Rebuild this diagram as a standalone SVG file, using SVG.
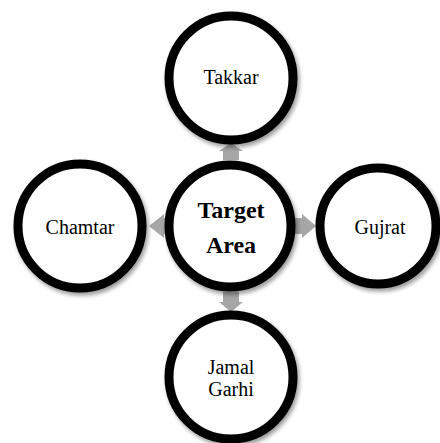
<svg xmlns="http://www.w3.org/2000/svg" width="440" height="443" viewBox="0 0 440 443">
<defs>
<filter id="sh" x="-20%" y="-20%" width="150%" height="150%">
<feGaussianBlur in="SourceAlpha" stdDeviation="2"/>
<feOffset dx="2" dy="3" result="b"/>
<feComponentTransfer><feFuncA type="linear" slope="0.4"/></feComponentTransfer>
<feMerge><feMergeNode/><feMergeNode in="SourceGraphic"/></feMerge>
</filter>
</defs>
<style>
.c{fill:#fff;stroke:#000;stroke-width:9;filter:url(#sh)}
.t{font-family:"Liberation Serif","DejaVu Serif",serif;font-size:20px;fill:#000;text-anchor:middle}
.b{font-weight:bold;font-size:24px}
.a{fill:#a6a6a6}
</style>
<rect width="440" height="443" fill="#fff"/>
<g id="connectors">
<path class="a" d="M223,160 V151 H219 L231,143 L243,151 H239 V160 Z"/>
<path class="a" d="M173,218 H164 V214 L149,226 L164,238 V234 H173 Z"/>
<path class="a" d="M293,218 H302 V214 L316,226 L302,238 V234 H293 Z"/>
<path class="a" d="M223,292 V302 H219 L231,312 L243,302 H239 V292 Z"/>
</g>
<g id="takkar"><circle class="c" cx="231" cy="78" r="62"/><text class="t" x="231" y="84">Takkar</text></g>
<g id="target"><circle class="c" cx="230" cy="226" r="61"/><text class="t b" x="231" y="218">Target</text><text class="t b" x="231" y="253">Area</text></g>
<g id="chamtar"><circle class="c" cx="80" cy="226" r="62"/><text class="t" x="80" y="234">Chamtar</text></g>
<g id="gujrat"><circle class="c" cx="378" cy="226" r="58"/><text class="t" x="380" y="234">Gujrat</text></g>
<g id="jamal"><circle class="c" cx="231" cy="377" r="62"/><text class="t" x="231" y="374">Jamal</text><text class="t" x="231" y="396">Garhi</text></g>
</svg>
